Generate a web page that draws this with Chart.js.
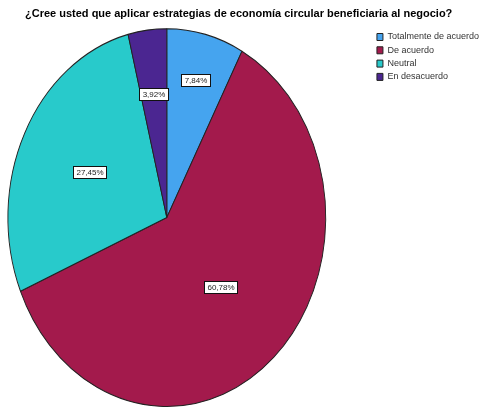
<!DOCTYPE html>
<html>
<head>
<meta charset="utf-8">
<script src="https://cdn.jsdelivr.net/npm/chart.js@4.4.0/dist/chart.umd.min.js"></script>
<style>
  html, body { margin: 0; padding: 0; background: #fff; }
</style>
</head>
<body>
<canvas id="pie" width="489" height="410"></canvas>
<script>
// chart data
const chartTitle = '¿Cree usted que aplicar estrategias de economía circular beneficiaria al negocio?';
const categories = ['Totalmente de acuerdo', 'De acuerdo', 'Neutral', 'En desacuerdo'];
const percentages = [7.84, 60.78, 27.45, 3.92];

// styling
const sliceColors = ['#45a4ef', '#a31a4c', '#28cacb', '#4b2691'];
const labelRadius = [0.75, 0.5, 0.54, 0.66];
const pieScaleX = 0.917;
const pieScaleY = 1.09;
const pieShiftX = -32;
const fontFamily = '"Liberation Sans", Arial, sans-serif';

/**
 * Squeezes the round pie into the oval shape of the original and
 * draws the boxed percentage labels on top.
 */
const ellipsePlugin = {
  id: 'ellipse',
  beforeDatasetsDraw(chart) {
    const { ctx } = chart;
    const arc = chart.getDatasetMeta(0).data[0];
    ctx.save();
    ctx.translate(arc.x + pieShiftX, arc.y);
    ctx.scale(pieScaleX, pieScaleY);
    ctx.translate(-arc.x, -arc.y);
  },
  afterDatasetsDraw(chart) {
    const { ctx } = chart;
    ctx.restore();

    ctx.save();
    ctx.font = `8px ${fontFamily}`;
    ctx.textAlign = 'center';
    ctx.textBaseline = 'middle';
    chart.getDatasetMeta(0).data.forEach((arc, i) => {
      const { x, y, startAngle, endAngle, outerRadius } =
        arc.getProps(['x', 'y', 'startAngle', 'endAngle', 'outerRadius'], true);
      const mid = (startAngle + endAngle) / 2;
      const r = outerRadius * labelRadius[i];
      const px = x + pieShiftX + Math.cos(mid) * r * pieScaleX;
      const py = y + Math.sin(mid) * r * pieScaleY;
      const text = percentages[i].toFixed(2).replace('.', ',') + '%';
      const w = Math.round(ctx.measureText(text).width + 6);
      const h = 12;
      const bx = Math.round(px - w / 2) + 0.5;
      const by = Math.round(py - h / 2) + 0.5;
      ctx.fillStyle = '#fff';
      ctx.fillRect(bx, by, w, h);
      ctx.strokeStyle = '#111';
      ctx.lineWidth = 1;
      ctx.strokeRect(bx, by, w, h);
      ctx.fillStyle = '#222';
      ctx.fillText(text, bx + w / 2, by + h / 2 + 0.5);
    });
    ctx.restore();
  },
};

const ctx = document.getElementById('pie').getContext('2d');

new Chart(ctx, {
  type: 'pie',
  data: {
    labels: categories,
    datasets: [
      {
        data: percentages,
        backgroundColor: sliceColors,
        borderColor: '#222',
        borderWidth: 1,
        hoverOffset: 0,
      },
    ],
  },
  options: {
    responsive: false,
    animation: false,
    layout: {
      padding: { left: 25, right: 0, top: 0, bottom: 0 },
    },
    plugins: {
      title: {
        display: true,
        text: chartTitle,
        align: 'start',
        color: '#000',
        font: { family: fontFamily, size: 11, weight: 'bold' },
        padding: { top: 7, bottom: 5 },
      },
      legend: {
        position: 'right',
        align: 'start',
        fullSize: false,
        // empty title only used as a small top spacer
        title: { display: true, text: '', padding: 0, font: { size: 2.5 } },
        labels: {
          boxWidth: 6,
          boxHeight: 7,
          padding: 4.3,
          color: '#333',
          font: { family: fontFamily, size: 9 },
        },
      },
      tooltip: { enabled: false },
    },
  },
  plugins: [ellipsePlugin],
});
</script>
</body>
</html>
